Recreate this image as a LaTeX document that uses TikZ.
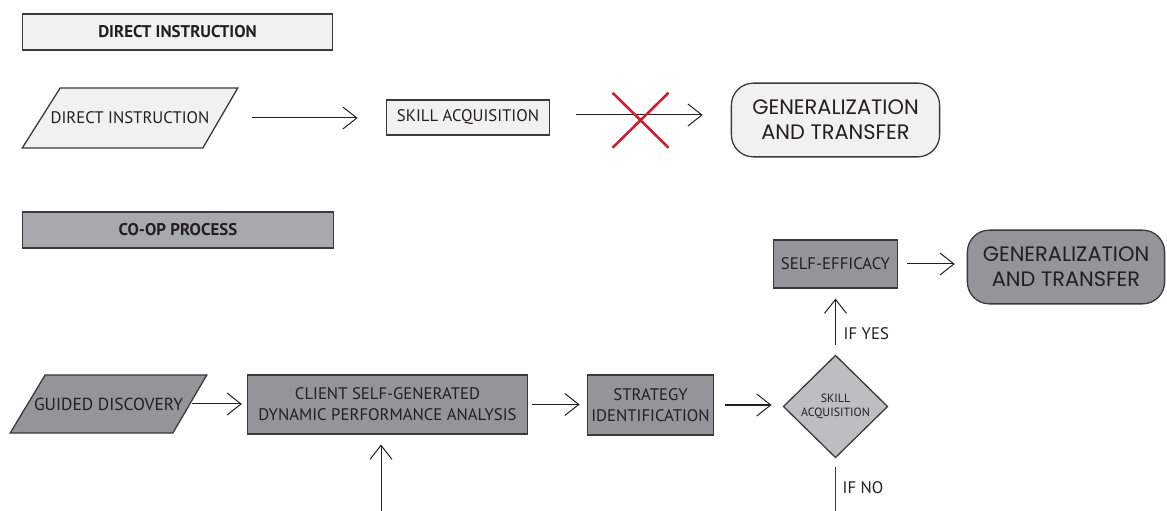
\documentclass[tikz,border=0pt]{standalone}
\usepackage{fontspec}
\setmainfont{PT Sans}
\newfontfamily\geofont{Poppins}
\usetikzlibrary{shapes.geometric,arrows.meta,calc}
\pgfdeclarelayer{backdrop}
\pgfsetlayers{backdrop,main}
\definecolor{inkc}{HTML}{231F20}
\definecolor{edgec}{HTML}{3A3A3C}
\definecolor{palefill}{HTML}{F1F1F2}
\definecolor{headfill}{HTML}{A7A9AC}
\definecolor{darkfill}{HTML}{939598}
\definecolor{diafill}{HTML}{BCBEC0}
\definecolor{crossred}{HTML}{C9202F}
\begin{document}
\begin{tikzpicture}[x=1bp,y=-1bp,
  every node/.style={text=inkc, font=\fontsize{16.8}{21}\selectfont},
  boxbase/.style={draw=edgec, line width=1.3bp, inner sep=0pt, align=center},
  header/.style={boxbase, rectangle, font=\bfseries\fontsize{17}{20}\selectfont},
  plainbox/.style={boxbase, rectangle},
  paraarea/.style={rectangle, inner sep=0pt, align=center},
  paraedge/.style={draw=edgec, line width=1.3bp, line join=miter},
  genbox/.style={boxbase, rectangle, rounded corners=22bp,
    font=\geofont\fontsize{21}{25}\selectfont},
  decision/.style={boxbase, diamond, fill=diafill,
    font=\fontsize{12}{14}\selectfont},
  flow/.style={draw=inkc, line width=1bp, -{Straight Barb[length=14bp,width=22bp]}},
  plainline/.style={draw=edgec, line width=1.3bp},
  lbl/.style={inner sep=0pt, anchor=west}
]
\useasboundingbox (0,0) rectangle (1167,511);

% --- direct instruction row
\node[header, fill=palefill, minimum width=311, minimum height=36] (h1) at (177.5,32) {DIRECT INSTRUCTION};
\node[paraarea, minimum width=216, minimum height=60] (di) at (130,118) {DIRECT INSTRUCTION};
\node[plainbox, fill=palefill, minimum width=164, minimum height=35] (sa) at (468,117.5) {SKILL ACQUISITION};
\node[genbox, fill=palefill, minimum width=209, minimum height=74] (g1) at (835.5,120) {GENERALIZATION\\AND TRANSFER};

% --- co-op process
\node[header, fill=headfill, minimum width=312, minimum height=36] (h2) at (178,230) {CO-OP PROCESS};
\node[paraarea, minimum width=197, minimum height=58, font=\fontsize{17.5}{21}\selectfont] (gd) at (108.5,404) {GUIDED DISCOVERY};
\node[plainbox, fill=darkfill, minimum width=281, minimum height=59] (cl) at (387.5,404.5)
  {CLIENT SELF-GENERATED\\DYNAMIC PERFORMANCE ANALYSIS};
\node[plainbox, fill=darkfill, minimum width=127, minimum height=60] (si) at (650.5,405)
  {STRATEGY\\IDENTIFICATION};
\node[decision, minimum width=105, minimum height=103] (dm) at (835.5,406.5)
  {SKILL\\ACQUISITION};
\node[plainbox, fill=darkfill, minimum width=125, minimum height=48] (se) at (835.5,264) {SELF-EFFICACY};
\node[genbox, fill=darkfill, minimum width=198, minimum height=74] (g2) at (1066,267)
  {GENERALIZATION\\AND TRANSFER};

% slanted input shapes, drawn behind their labels
\begin{pgfonlayer}{backdrop}
  \path[paraedge, fill=palefill] (di.south west) -- ($(di.north west)+(38,0)$)
    -- (di.north east) -- ($(di.south east)+(-35,0)$) -- cycle;
  \path[paraedge, fill=darkfill] (gd.south west) -- ($(gd.north west)+(35,0)$)
    -- (gd.north east) -- ($(gd.south east)+(-34,0)$) -- cycle;
\end{pgfonlayer}

\draw[flow, shorten <=14bp, shorten >=28bp] (di.east) -- (di.east -| sa.west);
\draw[flow, shorten <=26bp, shorten >=28bp] ([yshift=2.5bp]sa.east) -- ([yshift=2.5bp]sa.east -| g1.west);

% blocked transfer
\coordinate (blk) at ($(sa.east)!0.5!(g1.west)+(0,1.5)$);
\draw[crossred, line width=2.6bp] ($(blk)+(-28,-27.5)$) -- ($(blk)+(28,27.5)$)
  ($(blk)+(28,-27.5)$) -- ($(blk)+(-28,27.5)$);

\coordinate (feed) at (381,511);
\coordinate (nobranch) at (835.5,511);

\draw[flow, shorten <=-15bp, shorten >=5bp] (gd.east) -- (gd.east -| cl.west);
\draw[flow, shorten <=4bp, shorten >=7bp] (cl.east) -- (cl.east -| si.west);
\draw[flow, shorten <=11bp, shorten >=11bp] (si.east) -- (si.east -| dm.west);
\draw[flow, shorten <=10bp, shorten >=10bp] (dm.north) -- (se.south);
\draw[flow, shorten <=9bp, shorten >=12bp] (se.east) -- (se.east -| g2.west);
\draw[flow, shorten >=10bp] (feed) -- (feed |- cl.south);
\draw[plainline, shorten <=9bp] (dm.south) -- (nobranch);

\node[lbl] (yes) at (843.5,334) {IF YES};
\node[lbl] (no) at (842.5,488) {IF NO};
\end{tikzpicture}
\end{document}
